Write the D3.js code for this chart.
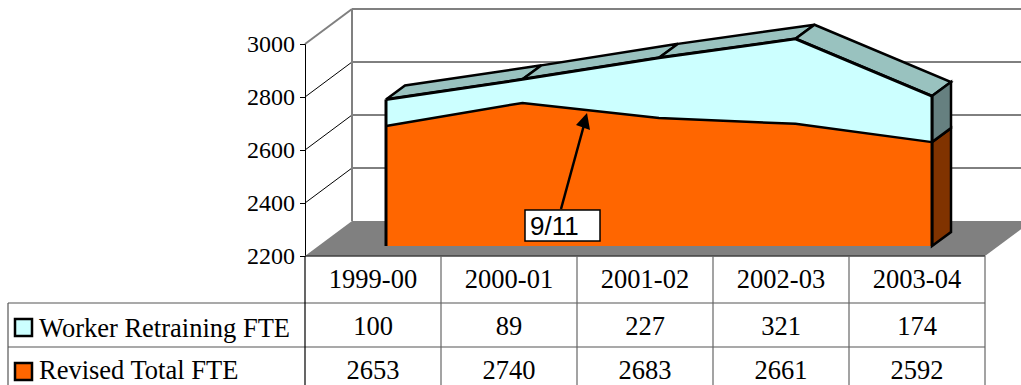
<!DOCTYPE html>
<html>
<head>
<meta charset="utf-8">
<script src="https://cdn.jsdelivr.net/npm/d3@7/dist/d3.min.js"></script>
<style>
html,body{margin:0;padding:0;background:#fff;overflow:hidden}
svg{display:block}
text{font-family:"Liberation Serif",serif;fill:#000}
</style>
</head>
<body>
<svg id="chart" width="1021" height="385"></svg>
<script>
const years = ["1999-00","2000-01","2001-02","2002-03","2003-04"];
const workerRetraining = [100,89,227,321,174];
const revisedTotal = [2653,2740,2683,2661,2592];
const yTicks = [2200,2400,2600,2800,3000];
const seriesNames = ["Worker Retraining FTE","Revised Total FTE"];
const seriesColors = ["#ccffff","#ff6600"];
const stacked = revisedTotal.map((v,i)=>v+workerRetraining[i]);

const svg = d3.select("#chart");
const W = 1021;

// projected box: wall depth, series front plane offset, series thickness
const wall = {dx:47, dy:-35};
const front = {dx:0, dy:-10};
const thick = {dx:19, dy:-14};

const y = d3.scaleLinear().domain([2200,3000]).range([256,44]);
const x = d3.scalePoint().domain(years).range([386,932]);
const col = d3.scaleBand().domain(years).range([305,985]);
const py = v => y(v)+front.dy;
const line = d3.line();
const poly = (pts,fill,stroke,sw) => svg.append("path")
  .attr("d",line(pts)+"Z").attr("fill",fill)
  .attr("stroke",stroke||"none").attr("stroke-width",sw||0).attr("stroke-linejoin","miter");
const seg = (a,b,c,w) => svg.append("line")
  .attr("x1",a[0]).attr("y1",a[1]).attr("x2",b[0]).attr("y2",b[1])
  .attr("stroke",c).attr("stroke-width",w);

// floor and walls
const x0 = col.range()[0], x1 = col.range()[1], yBase = y(2200), yTop = y(3000);
poly([[x0,yBase],[x0+wall.dx,yBase+wall.dy],[x1+wall.dx,yBase+wall.dy],[x1,yBase]],"#808080");

// gridlines on the side and back walls
yTicks.slice(1,-1).forEach(t=>{
  seg([x0,y(t)],[x0+wall.dx,y(t)+wall.dy],"#000",1);
  seg([x0+wall.dx,y(t)+wall.dy],[W,y(t)+wall.dy],"#000",1);
});
seg([x0,y(3000)],[x0+wall.dx,y(3000)+wall.dy],"#808080",2);
seg([x0+wall.dx,yTop+wall.dy],[x0+wall.dx,yBase+wall.dy],"#808080",2);
seg([x0+wall.dx,yTop+wall.dy],[W,yTop+wall.dy],"#808080",2);

// upper series ribbon along the top edge
const last = years.length-1;
const topPts = years.map((d,i)=>[x(d),py(stacked[i])]);
const midPts = years.map((d,i)=>[x(d),py(revisedTotal[i])]);
const back = p=>[p[0]+thick.dx,p[1]+thick.dy];
for(let i=0;i<last;i++){
  poly([topPts[i],topPts[i+1],back(topPts[i+1]),back(topPts[i])],"#99c2bf","#000",2.5);
}

// right end faces
const baseR = [x(years[last]),py(2200)];
poly([midPts[last],back(midPts[last]),back(baseR),baseR],"#803300","#000",2.5);
poly([topPts[last],back(topPts[last]),back(midPts[last]),midPts[last]],"#668080","#000",2.5);

// front faces of the two series
const baseL = [x(years[0]),py(2200)];
poly([...topPts,...midPts.slice().reverse()],seriesColors[0]);
poly([...midPts,baseR,baseL],seriesColors[1]);
svg.append("path").attr("d",line(topPts)).attr("fill","none").attr("stroke","#000").attr("stroke-width",3);
svg.append("path").attr("d",line(midPts)).attr("fill","none").attr("stroke","#000").attr("stroke-width",2.5);
seg(topPts[0],baseL,"#000",3);
seg(topPts[last],baseR,"#000",3);

// value axis
const axis = svg.append("g").attr("transform",`translate(${x0},0)`)
  .call(d3.axisLeft(y).tickValues(yTicks).tickSize(5).tickPadding(5).tickFormat(d3.format("d")));
axis.select(".domain").attr("stroke","#000").attr("stroke-width",1);
axis.selectAll("text").attr("font-size",null)
  .style("font-family","'Liberation Serif',serif").style("font-size","24px").attr("fill","#000");

// data table under the plot
seg([x0,yBase],[x1,yBase],"#404040",1.5);
[303,347].forEach(r=>seg([8,r],[x1,r],"#555",1.2));
seg([x0,yBase],[x0,385],"#000",1.2);
seg([8,303],[8,385],"#555",1.2);
years.forEach(d=>seg([col(d)+col.bandwidth(),yBase],[col(d)+col.bandwidth(),385],"#666",1.2));

const cell = (t,cx,cy,anchor) => svg.append("text").attr("x",cx).attr("y",cy)
  .attr("text-anchor",anchor||"middle").attr("font-size",26.5).text(t);
const mid = d=>col(d)+col.bandwidth()/2;
years.forEach((d,i)=>{
  cell(d,mid(d),288);
  cell(workerRetraining[i],mid(d),335);
  cell(revisedTotal[i],mid(d),378.5);
});
seriesNames.forEach((n,i)=>{
  const ry = [319,363][i];
  svg.append("rect").attr("x",15).attr("y",ry).attr("width",17).attr("height",17)
    .attr("fill",seriesColors[i]).attr("stroke","#000").attr("stroke-width",2.5);
  cell(n,39,[337,379][i],"start");
});

// annotation callout
const tip = [587,113], tail = [561,209];
seg(tail,[tip[0]-3,tip[1]+12],"#000",2.5);
svg.append("path").attr("d",line([tip,[576,125],[590,130]])+"Z").attr("fill","#000");
svg.append("rect").attr("x",525).attr("y",210).attr("width",75).attr("height",31)
  .attr("fill","#fff").attr("stroke","#000").attr("stroke-width",1.5);
svg.append("text").attr("x",530).attr("y",235).attr("font-size",26)
  .style("font-family","'Liberation Sans',sans-serif").text("9/11");
</script>
</body>
</html>
